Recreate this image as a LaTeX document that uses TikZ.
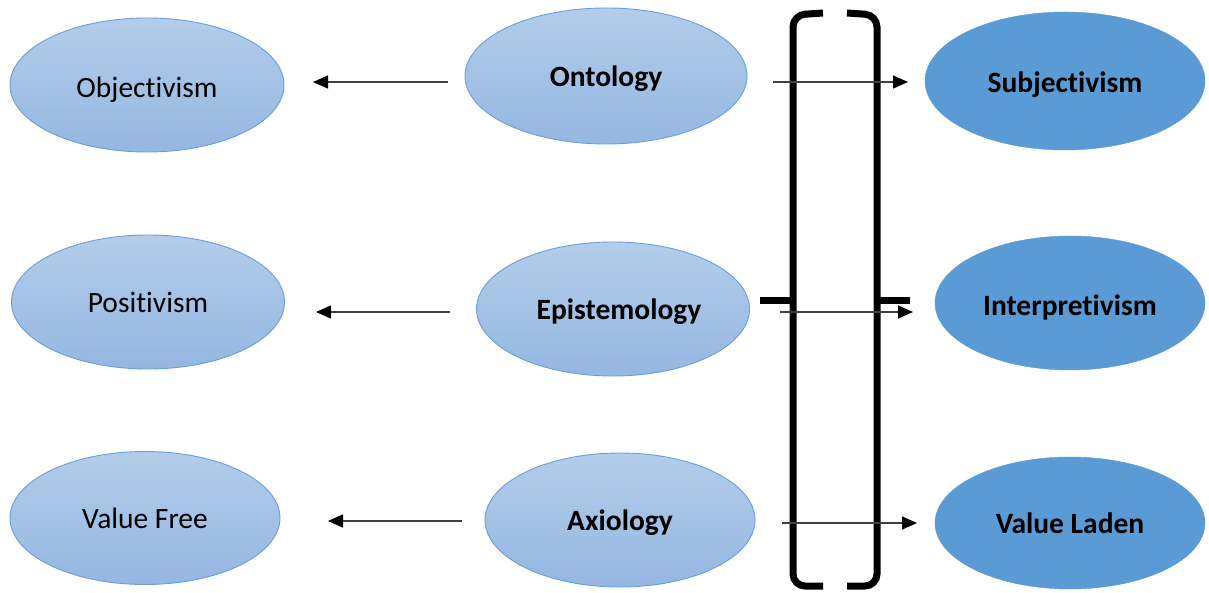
\documentclass[tikz,border=0pt]{standalone}
\usepackage{fontspec}
\setmainfont[Ligatures=NoCommon]{Carlito}
\usetikzlibrary{shapes.geometric,arrows.meta}
\definecolor{lighttop}{HTML}{B3CDEA}
\definecolor{lightbot}{HTML}{94B7E1}
\definecolor{lightedge}{HTML}{6A9FD8}
\definecolor{darkfill}{HTML}{5B9BD5}
\definecolor{arrowgray}{HTML}{404040}
\tikzset{
  lightoval/.style={ellipse, inner sep=0pt, top color=lighttop, bottom color=lightbot,
    draw=lightedge, line width=0.9pt, font=\fontsize{29.5}{34}\selectfont},
  darkoval/.style={ellipse, inner sep=0pt, fill=darkfill, draw=darkfill,
    font=\fontsize{29.5}{34}\selectfont\bfseries},
  midoval/.style={lightoval, font=\fontsize{29.5}{34}\selectfont\bfseries},
  link/.style={draw=arrowgray, line width=1.4pt,
    -{Triangle[length=15pt,width=13pt,color=black]}},
  bracket/.style={draw=black, line width=7pt, rounded corners=12pt}
}
% text lowered (and nudged) inside its oval, keeping its box size
\newcommand{\lowtext}[3][0pt]{\raisebox{-#2}[\height][\depth]{\hspace*{#1}#3}}
\begin{document}
\begin{tikzpicture}[x=1pt,y=-1pt]
\useasboundingbox (0,0) rectangle (1209,593);

% left column
\node[lightoval, minimum width=274pt, minimum height=134pt] (obj) at (147,85) {\lowtext{5pt}{Objectivism}};
\node[lightoval, minimum width=273pt, minimum height=134pt] (pos) at (148,302) {Positivism};
\node[lightoval, minimum width=270pt, minimum height=133pt] (vfree) at (145,518) {Value Free};

% middle column
\node[midoval, minimum width=282pt, minimum height=136pt] (ont) at (606,76) {\lowtext{3pt}{Ontology}};
\node[midoval, minimum width=273pt, minimum height=134pt] (epi) at (613,309) {\lowtext[12pt]{3pt}{Epistemology}};
\node[midoval, minimum width=270pt, minimum height=134pt] (axi) at (620,520) {\lowtext{3pt}{Axiology}};

% right column
\node[darkoval, minimum width=280pt, minimum height=138pt] (subj) at (1065,81) {\lowtext{4pt}{Subjectivism}};
\node[darkoval, minimum width=270pt, minimum height=134pt] (interp) at (1070,303) {\lowtext{4pt}{Interpretivism}};
\node[darkoval, minimum width=270pt, minimum height=132pt] (vladen) at (1070,523) {Value Laden};

% the pair of brackets
\path[bracket] (823,13) -- (793,15) -- (793,586) -- (823,586);
\path[bracket] (847,13) -- (877,15) -- (877,586) -- (847,586);
\path[draw=black, line width=7pt] (760,301) -- (793,301);
\path[draw=black, line width=7pt] (877,301) -- (910,301);

% arrow end points
\coordinate (o1) at (448,82);  \coordinate (o2) at (313,82);
\coordinate (s1) at (773,82);  \coordinate (s2) at (908,82);
\coordinate (e1) at (450,312); \coordinate (e2) at (316,312);
\coordinate (i1) at (780,312); \coordinate (i2) at (913,312);
\coordinate (a1) at (462,521); \coordinate (a2) at (328,521);
\coordinate (v1) at (782,523); \coordinate (v2) at (917,523);

\draw[link] (o1) -- (o2);
\draw[link] (s1) -- (s2);
\draw[link] (e1) -- (e2);
\draw[link] (i1) -- (i2);
\draw[link] (a1) -- (a2);
\draw[link] (v1) -- (v2);
\end{tikzpicture}
\end{document}
